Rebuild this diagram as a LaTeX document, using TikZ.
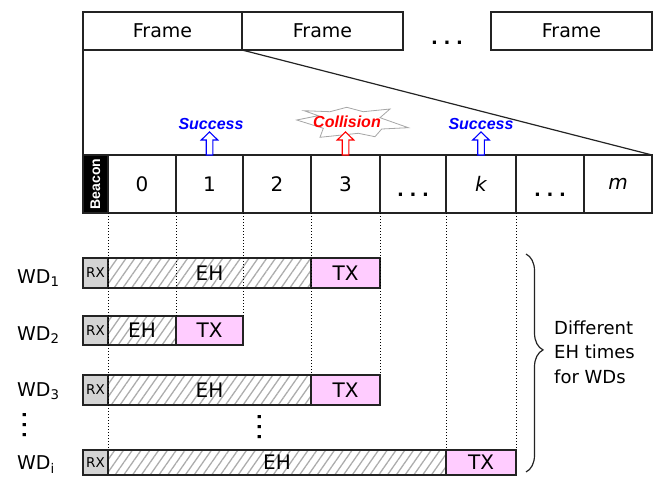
\documentclass[tikz,border=0pt]{standalone}
\usepackage{fontspec}
\setmainfont{DejaVu Sans}
\newfontfamily\arialfont{Liberation Sans}
\usetikzlibrary{patterns.meta,decorations.pathreplacing}
\definecolor{txpink}{RGB}{255,204,255}
\definecolor{rxgray}{RGB}{212,212,212}
\definecolor{hatchgray}{RGB}{172,172,172}
\definecolor{linegray}{RGB}{35,35,35}
\newcommand\setfs[1]{\fontsize{#1}{#1}\selectfont}

\tikzset{
  cell/.style={draw=linegray, line width=1.2pt, inner sep=0pt, outer sep=0pt},
  framebox/.style={cell, minimum height=38pt, font=\setfs{19}},
  slotbox/.style={cell, minimum height=58pt, font=\setfs{20}},
  rxbox/.style={cell, fill=rxgray, minimum width=25pt, font=\setfs{13.5}},
  ehbox/.style={cell, pattern={Lines[angle=55,distance=7.2pt,line width=1.3pt]},
                pattern color=hatchgray, font=\setfs{20}},
  txbox/.style={cell, fill=txpink, font=\setfs{20}},
  wdlabel/.style={anchor=base west, inner sep=0pt, font=\setfs{19}},
  hdots/.style={inner sep=0pt, anchor=base, font=\bfseries\setfs{18}},
  vdots/.style={inner sep=0pt, font=\bfseries\setfs{18}},
  result/.style={inner sep=0pt, font=\arialfont\bfseries\itshape\setfs{16}},
  guide/.style={dotted, line width=1pt, black},
  uparrow/.pic={\draw[pic actions] (-3.3,0) -- (-3.3,-15) -- (-8.3,-15) -- (0,-23)
                -- (8.3,-15) -- (3.3,-15) -- (3.3,0) -- cycle;}
}

\begin{document}
\begin{tikzpicture}[x=1pt,y=-1pt]
\useasboundingbox (0,0) rectangle (660,476);

% superframe sequence
\node[framebox, minimum width=159pt] (f1) at (162.5,31) {Frame};
\node[framebox, minimum width=161pt] (f2) at (322.5,31) {Frame};
\node[hdots] (fdots) at (447,45) {.\hspace{5.7pt}.\hspace{5.7pt}.};
\node[framebox, minimum width=161pt] (f3) at (571.5,31) {Frame};

% slots of one frame
\node[cell, fill=black, minimum width=25pt, minimum height=58pt] (bcn) at (95.5,184)
  {\rotatebox{90}{\color{white}\arialfont\bfseries\setfs{14}Beacon}};
\node[slotbox, minimum width=68pt] (s0) at (142,184) {0};
\node[slotbox, minimum width=67pt] (s1) at (209.5,184) {1};
\node[slotbox, minimum width=68pt] (s2) at (277,184) {2};
\node[slotbox, minimum width=69pt] (s3) at (345.5,184) {3};
\node[slotbox, minimum width=66pt] (sd1) at (413,184) {};
\node[slotbox, minimum width=70pt] (sk) at (481,184) {\itshape k};
\node[slotbox, minimum width=68pt] (sd2) at (550,184) {};
\node[slotbox, minimum width=68pt] (sm) at (618,184) {\itshape m};
\node[hdots] (dots1) at (sd1 |- 0,196) {.\hspace{5.7pt}.\hspace{5.7pt}.};
\node[hdots] (dots2) at (sd2 |- 0,196) {.\hspace{5.7pt}.\hspace{5.7pt}.};

% zoom lines from the first frame to the slot row
\draw[linegray, line width=1.2pt] (f1.south west) -- (bcn.north west);
\draw[linegray, line width=1.2pt] (f1.south east) -- (sm.north east);

% slot outcomes
\pic[draw=blue, fill=white, line width=1.1pt] at (s1.north) {uparrow};
\node[result, text=blue] (succ1) at (211,124) {Success};
\draw[gray!70, line width=0.8pt, fill=white]
  (296.7,120) -- (318.3,115.7) -- (304,110.7) -- (330,111.7) -- (346.7,107.3)
  -- (363.3,111.7) -- (390,109) -- (380,117.7) -- (408.3,127.7) -- (381.7,129)
  -- (375,136.7) -- (358.3,133.3) -- (320,137.3) -- (323.3,128.3) -- cycle;
\node[result, text=red] (coll) at (347,122) {Collision};
\pic[draw=red, fill=white, line width=1.1pt] at (s3.north) {uparrow};
\pic[draw=blue, fill=white, line width=1.1pt] at (sk.north) {uparrow};
\node[result, text=blue] (succ2) at (481,124) {Success};

% wireless devices
\node[wdlabel] (wd1) at (17,283) {WD\textsubscript{1}};
\node[rxbox, minimum height=30pt] (rx1) at (95.5,273) {RX};
\node[ehbox, minimum width=203pt, minimum height=30pt] (eh1) at (209.5,273) {EH};
\node[txbox, minimum width=69pt, minimum height=30pt] (tx1) at (345.5,273) {TX};

\node[wdlabel] (wd2) at (17,340) {WD\textsubscript{2}};
\node[rxbox, minimum height=29pt] (rx2) at (95.5,330.5) {RX};
\node[ehbox, minimum width=68pt, minimum height=29pt] (eh2) at (142,330.5) {EH};
\node[txbox, minimum width=67pt, minimum height=29pt] (tx2) at (209.5,330.5) {TX};

\node[wdlabel] (wd3) at (17,396) {WD\textsubscript{3}};
\node[rxbox, minimum height=30pt] (rx3) at (95.5,390) {RX};
\node[ehbox, minimum width=203pt, minimum height=30pt] (eh3) at (209.5,390) {EH};
\node[txbox, minimum width=69pt, minimum height=30pt] (tx3) at (345.5,390) {TX};

\node[vdots] (vd1) at (25,425) {\rotatebox{90}{.\hspace{3.2pt}.\hspace{3.2pt}.}};
\node[vdots] (vd2) at (260,427) {\rotatebox{90}{.\hspace{3.2pt}.\hspace{3.2pt}.}};

\node[wdlabel] (wdi) at (17,469) {WD\textsubscript{i}};
\node[rxbox, minimum height=25pt] (rxi) at (95.5,462.5) {RX};
\node[ehbox, minimum width=338pt, minimum height=25pt] (ehi) at (277,462.5) {EH};
\node[txbox, minimum width=70pt, minimum height=25pt] (txi) at (481,462.5) {TX};

% slot boundaries carried down to the devices
\draw[guide] (s0.south west) -- (ehi.north west);
\draw[guide] (s1.south west) -- (eh2.north east);
\draw[guide] (s2.south west) -- (tx2.north east);
\draw[guide] (s3.south west) -- (tx3.north west);
\draw[guide] (s3.south east) -- (tx3.north east);
\draw[guide] (sk.south west) -- (txi.north west);
\draw[guide] (sk.south east) -- (txi.north east);

% brace and note
\coordinate (btop) at (526,254);
\coordinate (bbot) at (526,472);
\draw[decorate, decoration={brace, amplitude=17pt, aspect=0.44}, linegray, line width=1.2pt]
  (btop) -- (bbot);
\node[anchor=west, align=left, inner sep=0pt, font=\fontsize{18}{24.5}\selectfont]
  (note) at (554,352) {Different\\EH times\\for WDs};
\end{tikzpicture}
\end{document}
